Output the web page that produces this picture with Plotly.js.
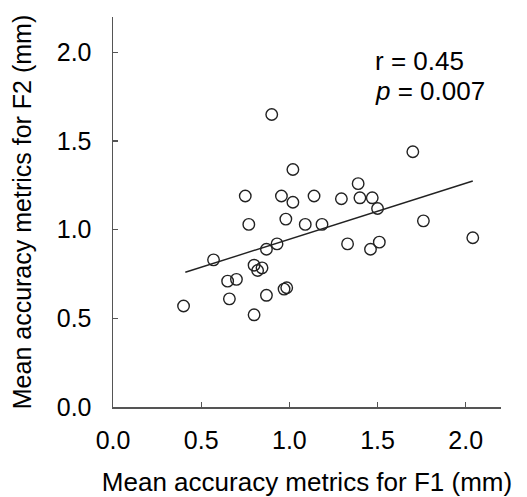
<!DOCTYPE html>
<html>
<head>
<meta charset="utf-8">
<script src="https://cdn.plot.ly/plotly-3.0.1.min.js"></script>
<style>html,body{margin:0;padding:0;background:#fff;}#chart{width:527px;height:497px;}</style>
</head>
<body>
<div id="chart"></div>
<script>
const f1Values = [0.40, 0.57, 0.65, 0.66, 0.70, 0.75, 0.77, 0.80, 0.80, 0.82, 0.845, 0.87, 0.87, 0.90, 0.93, 0.955, 0.97, 0.985, 0.98, 1.02, 1.02, 1.09, 1.14, 1.185, 1.295, 1.33, 1.39, 1.40, 1.47, 1.46, 1.50, 1.51, 1.70, 1.76, 2.04];
const f2Values = [0.57, 0.83, 0.71, 0.61, 0.72, 1.19, 1.03, 0.52, 0.80, 0.77, 0.785, 0.63, 0.89, 1.65, 0.92, 1.19, 0.665, 0.673, 1.06, 1.34, 1.155, 1.03, 1.19, 1.03, 1.175, 0.92, 1.26, 1.18, 1.18, 0.89, 1.12, 0.93, 1.44, 1.05, 0.955];
const fitX = [0.41, 2.04];
const fitY = [0.76, 1.275];
const tickVals = [0, 0.5, 1.0, 1.5, 2.0];
const tickText = ["0.0", "0.5", "1.0", "1.5", "2.0"];
const statLines = ["r = 0.45", "<i>p</i> = 0.007"];

const font = "Liberation Sans, Arial, sans-serif";
const axisCommon = {
  range: [0, 2.2],
  tickvals: tickVals,
  ticktext: tickText,
  ticks: "inside",
  ticklen: 5,
  tickwidth: 1.3,
  tickcolor: "#555",
  showline: true,
  linecolor: "#555",
  linewidth: 1.5,
  showgrid: false,
  zeroline: false,
  tickfont: {family: font, size: 25, color: "#000"},
  fixedrange: true
};

const data = [
  {x: fitX, y: fitY, mode: "lines", type: "scatter", line: {color: "#222", width: 1.4}, hoverinfo: "skip"},
  {x: f1Values, y: f2Values, mode: "markers", type: "scatter",
   marker: {symbol: "circle-open", size: 11.5, color: "#222", line: {width: 1.4, color: "#222"}}}
];

const layout = {
  width: 527, height: 497,
  margin: {l: 113, r: 26, t: 17, b: 90},
  paper_bgcolor: "#fff", plot_bgcolor: "#fff",
  showlegend: false,
  xaxis: Object.assign({}, axisCommon, {
    title: {text: "Mean accuracy metrics for F1 (mm)", font: {family: font, size: 26, color: "#000"}, standoff: 20},
    ticklabelstandoff: 10
  }),
  yaxis: Object.assign({}, axisCommon, {
    title: {text: "Mean accuracy metrics for F2 (mm)", font: {family: font, size: 25, color: "#000"}, standoff: 18},
    ticklabelstandoff: 15
  }),
  annotations: [
    {x: 1.476, y: 1.95, xref: "x", yref: "y", text: statLines[0], showarrow: false, xanchor: "left", yanchor: "middle", font: {family: font, size: 26, color: "#000"}},
    {x: 1.476, y: 1.78, xref: "x", yref: "y", text: statLines[1], showarrow: false, xanchor: "left", yanchor: "middle", font: {family: font, size: 26, color: "#000"}}
  ]
};

Plotly.newPlot("chart", data, layout, {displayModeBar: false, staticPlot: true});
</script>
</body>
</html>
